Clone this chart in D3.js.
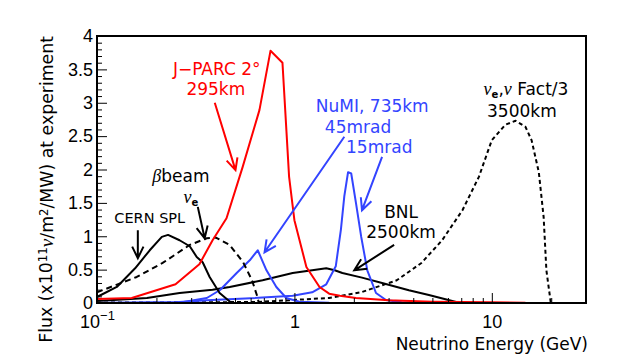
<!DOCTYPE html>
<html>
<head>
<meta charset="utf-8">
<script src="https://cdn.jsdelivr.net/npm/d3@7"></script>
<style>
  body { margin: 0; background: #fff; }
  svg { display: block; font-family: "DejaVu Sans", "Liberation Sans", Arial, sans-serif; }
</style>
</head>
<body>
<svg id="flux" width="622" height="361"></svg>
<script>
// flux curves, [energy GeV, flux]
const jparc = [[0.1,0.06],[0.15,0.075],[0.25,0.28],[0.33,0.58],[0.385,0.94],[0.453,1.27],[0.547,2.04],
  [0.665,2.89],[0.757,3.78],[0.87,3.6],[0.94,1.89],[1.0,1.24],[1.15,0.54],[1.34,0.24],[1.5,0.14],
  [1.7,0.11],[2.05,0.075],[3,0.04],[5,0.02],[10,0.01],[14.8,0.005]];
const cernSpl = [[0.1,0.09],[0.126,0.24],[0.156,0.52],[0.185,0.79],[0.213,0.99],[0.229,1.02],[0.262,0.94],
  [0.295,0.85],[0.32,0.69],[0.343,0.61],[0.372,0.39],[0.418,0.15],[0.48,0]];
const betaBeam = [[0.1,0.16],[0.159,0.39],[0.215,0.6],[0.295,0.87],[0.36,0.97],[0.4,0.98],[0.47,0.87],
  [0.55,0.61],[0.61,0.34],[0.65,0.09],[0.66,0]];
const bnl = [[0.1,0.03],[0.179,0.075],[0.262,0.15],[0.385,0.2],[0.47,0.24],[0.69,0.34],[0.98,0.45],
  [1.23,0.49],[1.45,0.52],[1.6,0.49],[1.75,0.45],[2.2,0.38],[2.78,0.3],[3.8,0.19],[4.8,0.12],
  [6.6,0.015],[8.3,0]];
const numi45 = [[0.1,0],[0.27,0.01],[0.36,0.075],[0.42,0.195],[0.51,0.45],[0.594,0.64],[0.652,0.79],
  [0.722,0.49],[0.81,0.24],[0.91,0.075],[1.06,0.02],[1.5,0.005],[3,0]];
const numi15 = [[0.1,0],[0.25,0.01],[0.36,0.04],[0.6,0.07],[0.98,0.11],[1.23,0.16],[1.45,0.28],
  [1.62,0.55],[1.72,1.1],[1.79,1.6],[1.87,1.96],[1.94,1.94],[2.05,1.5],[2.18,0.99],[2.34,0.49],
  [2.59,0.15],[2.91,0.045],[3.5,0.01],[6,0]];
const nuFact = [[0.1,0.005],[0.65,0.015],[0.98,0.045],[1.5,0.075],[2.2,0.165],[3.3,0.34],[4.4,0.6],
  [5.6,0.94],[7.1,1.39],[8.6,1.89],[10,2.44],[11.7,2.67],[13.2,2.73],[14.8,2.64],[15.9,2.44],
  [17.3,1.96],[18.3,1.29],[18.9,0.49],[19.9,0]];

const yMajor = [0, 0.5, 1, 1.5, 2, 2.5, 3, 3.5, 4];
const xMajor = [0.1, 1, 10];

const width = 622, height = 361;
const margin = {top: 36, right: 36, bottom: 58, left: 97};

const svg = d3.select('#flux');

const x = d3.scaleLog().domain([0.1, 30]).range([margin.left, width - margin.right]);
const y = d3.scaleLinear().domain([0, 4]).range([height - margin.bottom, margin.top]);

const red = '#ff0000', blue = '#3344ff', black = '#000';
const greekFont = '"Liberation Serif", "DejaVu Serif", serif';

svg.append('clipPath').attr('id', 'plotClip')
  .append('rect')
    .attr('x', margin.left).attr('y', margin.top)
    .attr('width', width - margin.left - margin.right)
    .attr('height', height - margin.top - margin.bottom);

const lineGen = d3.line().x(d => x(d[0])).y(d => y(d[1]));

const curves = [
  {data: nuFact, color: black, dash: '4,3'},
  {data: bnl, color: black},
  {data: numi45, color: blue},
  {data: numi15, color: blue},
  {data: betaBeam, color: black, dash: '6,4'},
  {data: cernSpl, color: black},
  {data: jparc, color: red}
];

const curveG = svg.append('g').attr('clip-path', 'url(#plotClip)');
curveG.selectAll('path').data(curves).enter().append('path')
  .attr('d', d => lineGen(d.data))
  .attr('fill', 'none')
  .attr('stroke', d => d.color)
  .attr('stroke-width', 2)
  .attr('stroke-dasharray', d => d.dash || null)
  .attr('stroke-linejoin', 'round');

// axes
const yMinor = d3.range(0, 40).map(i => i / 10).filter(v => Math.round(v * 10) % 5 !== 0);
svg.append('g')
    .attr('transform', `translate(${margin.left},0)`)
    .call(d3.axisLeft(y).tickValues(yMinor).tickSize(-5).tickFormat(''))
    .call(g => g.select('.domain').remove());

svg.append('g')
    .attr('transform', `translate(${margin.left},0)`)
    .call(d3.axisLeft(y).tickValues(yMajor).tickSize(-10).tickPadding(4).tickFormat(d => String(d)))
    .call(g => g.select('.domain').remove())
    .call(g => g.selectAll('text').attr('font-size', 18).attr('font-family', null));

const xMinor = [];
[0.1, 1, 10].forEach(dec => d3.range(2, 10).forEach(k => { if (k * dec <= 30) xMinor.push(k * dec); }));
svg.append('g')
    .attr('transform', `translate(0,${height - margin.bottom})`)
    .call(d3.axisBottom(x).tickValues(xMinor).tickSize(-5).tickFormat(''))
    .call(g => g.select('.domain').remove());

const xAxisG = svg.append('g')
    .attr('transform', `translate(0,${height - margin.bottom})`)
    .call(d3.axisBottom(x).tickValues(xMajor).tickSize(-10).tickPadding(12).tickFormat(d => d === 0.1 ? '10' : String(d)))
    .call(g => g.select('.domain').remove());
xAxisG.selectAll('text').attr('font-size', 18).attr('font-family', null)
  .filter(d => d === 0.1)
  .append('tspan').attr('dy', -8).attr('font-size', 13).text('\u22121');

svg.selectAll('.tick line').attr('stroke', black).attr('stroke-width', 1);

// frame
svg.append('rect')
  .attr('x', margin.left).attr('y', margin.top)
  .attr('width', width - margin.left - margin.right)
  .attr('height', height - margin.top - margin.bottom)
  .attr('fill', 'none').attr('stroke', black).attr('stroke-width', 2);

// axis titles
svg.append('text')
  .attr('x', width - margin.right + 2).attr('y', 350)
  .attr('text-anchor', 'end').attr('font-size', 17)
  .text('Neutrino Energy (GeV)');

const yTitle = svg.append('text')
  .attr('transform', `translate(52,${margin.top}) rotate(-90)`)
  .attr('text-anchor', 'end').attr('font-size', 17);
yTitle.append('tspan').text('Flux (x10');
yTitle.append('tspan').attr('dy', '-0.42em').attr('font-size', '0.68em').text('11');
yTitle.append('tspan').attr('dy', '0.29em').attr('font-family', greekFont).attr('font-style', 'italic').attr('font-size', '1.12em').text('\u03bd');
yTitle.append('tspan').text('/m');
yTitle.append('tspan').attr('dy', '-0.42em').attr('font-size', '0.68em').text('2');
yTitle.append('tspan').attr('dy', '0.29em').text('/MW) at experiment');
// stretch the title to the length it has in the reference
const titleLen = yTitle.node().getComputedTextLength();
yTitle.attr('font-size', 17 * 307 / titleLen);

// annotations
const labels = [
  {parts: [['J\u2212PARC 2\u00b0']], e: 0.404, f: 3.42, color: red},
  {parts: [['295km']], e: 0.40, f: 3.12, color: red},
  {parts: [['\u03b2', 'greek'], ['beam']], e: 0.266, f: 1.82, color: black},
  {parts: [['\u03bd', 'greek'], ['e', 'sub']], e: 0.299, f: 1.5, color: black},
  {parts: [['CERN SPL']], e: 0.185, f: 1.2, color: black, size: 14.5},
  {parts: [['NuMI, 735km']], e: 2.48, f: 2.86, color: blue},
  {parts: [['45mrad']], e: 2.10, f: 2.55, color: blue},
  {parts: [['15mrad']], e: 2.69, f: 2.25, color: blue},
  {parts: [['BNL']], e: 3.47, f: 1.27, color: black},
  {parts: [['2500km']], e: 3.47, f: 0.97, color: black},
  {parts: [['\u03bd', 'greek'], ['e', 'sub'], [','], ['\u03bd', 'greek'], [' Fact/3']], e: 14.9, f: 3.12, color: black},
  {parts: [['3500km']], e: 14.2, f: 2.79, color: black}
];

labels.forEach(l => {
  const t = svg.append('text')
    .attr('x', x(l.e)).attr('y', y(l.f))
    .attr('text-anchor', 'middle')
    .attr('font-size', l.size || 17)
    .attr('fill', l.color);
  let shifted = false;
  l.parts.forEach(([s, kind]) => {
    const ts = t.append('tspan').text(s);
    if (shifted) { ts.attr('dy', -3); shifted = false; }
    if (kind === 'greek') ts.attr('font-family', greekFont).attr('font-style', 'italic').attr('font-size', 18);
    if (kind === 'sub') { ts.attr('dy', 3).attr('font-size', 10).attr('font-weight', 'bold'); shifted = true; }
  });
});

const arrows = [
  {from: [0.395, 3.0], to: [0.503, 1.99], color: red},
  {from: [0.324, 1.44], to: [0.351, 0.97], color: black},
  {from: [0.161, 1.09], to: [0.161, 0.67], color: black},
  {from: [1.79, 2.49], to: [0.706, 0.76], color: blue},
  {from: [2.78, 2.19], to: [2.20, 1.39], color: blue},
  {from: [3.2, 0.87], to: [2.01, 0.49], color: black}
];

arrows.forEach(a => {
  const x0 = x(a.from[0]), y0 = y(a.from[1]);
  const x1 = x(a.to[0]), y1 = y(a.to[1]);
  const ang = Math.atan2(y1 - y0, x1 - x0);
  const len = 13, spread = Math.PI / 7;
  const hx1 = x1 - len * Math.cos(ang - spread), hy1 = y1 - len * Math.sin(ang - spread);
  const hx2 = x1 - len * Math.cos(ang + spread), hy2 = y1 - len * Math.sin(ang + spread);
  svg.append('path')
    .attr('d', `M${x0},${y0}L${x1},${y1}M${hx1},${hy1}L${x1},${y1}L${hx2},${hy2}`)
    .attr('fill', 'none').attr('stroke', a.color).attr('stroke-width', 2);
});
</script>
</body>
</html>
